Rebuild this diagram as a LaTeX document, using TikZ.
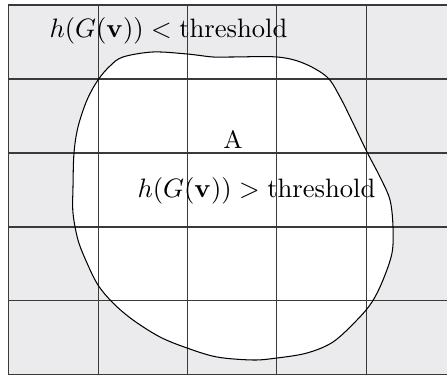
\documentclass[tikz,border=0pt]{standalone}
\usetikzlibrary{calc}
\definecolor{cellgray}{HTML}{EBEBED}
\definecolor{gridgray}{HTML}{3A3A3A}
\tikzset{
  gridline/.style={draw=gridgray, line width=0.42pt},
  blobline/.style={draw=black, line width=0.4pt},
  lbl/.style={inner sep=0pt, font=\normalsize, scale=1.025}
}
\begin{document}
\begin{tikzpicture}[x=0.385pt, y=-0.385pt]
\useasboundingbox (0,0) rectangle (447,375);
\clip (0,0) rectangle (447,375);
\fill[cellgray] (8.3,5) rectangle (455.5,374.3);
\def\blobpath{plot[smooth cycle, tension=0.55] coordinates {
 (123,57) (153,52) (187,54) (213,57) (233,57) (277,57) (303,63) (327,77)
 (340,97) (353,123) (367,152) (380,177) (390,200) (393,227) (392,253)
 (383,280) (372,302) (357,320) (333,342) (307,353) (277,358) (253,360)
 (217,357) (187,348) (160,337) (133,320) (113,303) (98,285) (87,263)
 (78,240) (73,213) (73,187) (74,153) (78,127) (87,100) (98,80) (110,66)}}
\fill[white] \blobpath;
\foreach \x in {8.3,98.3,187.6,276.9,366.2,455.5}
  \draw[gridline] (\x,5) -- (\x,374.3);
\foreach \y in {5,79,153,227,300.7,374.3}
  \draw[gridline] (8.3,\y) -- (455.5,\y);
\draw[blobline] \blobpath;
\node[lbl] (outside) at (168.5,31) {$h(G(\mathbf{v})) < \mathrm{threshold}$};
\node[lbl, font=\small, scale=1.05] (areaA) at (233,140) {A};
\node[lbl] (inside) at (256.5,191) {$h(G(\mathbf{v})) > \mathrm{threshold}$};
\end{tikzpicture}
\end{document}
